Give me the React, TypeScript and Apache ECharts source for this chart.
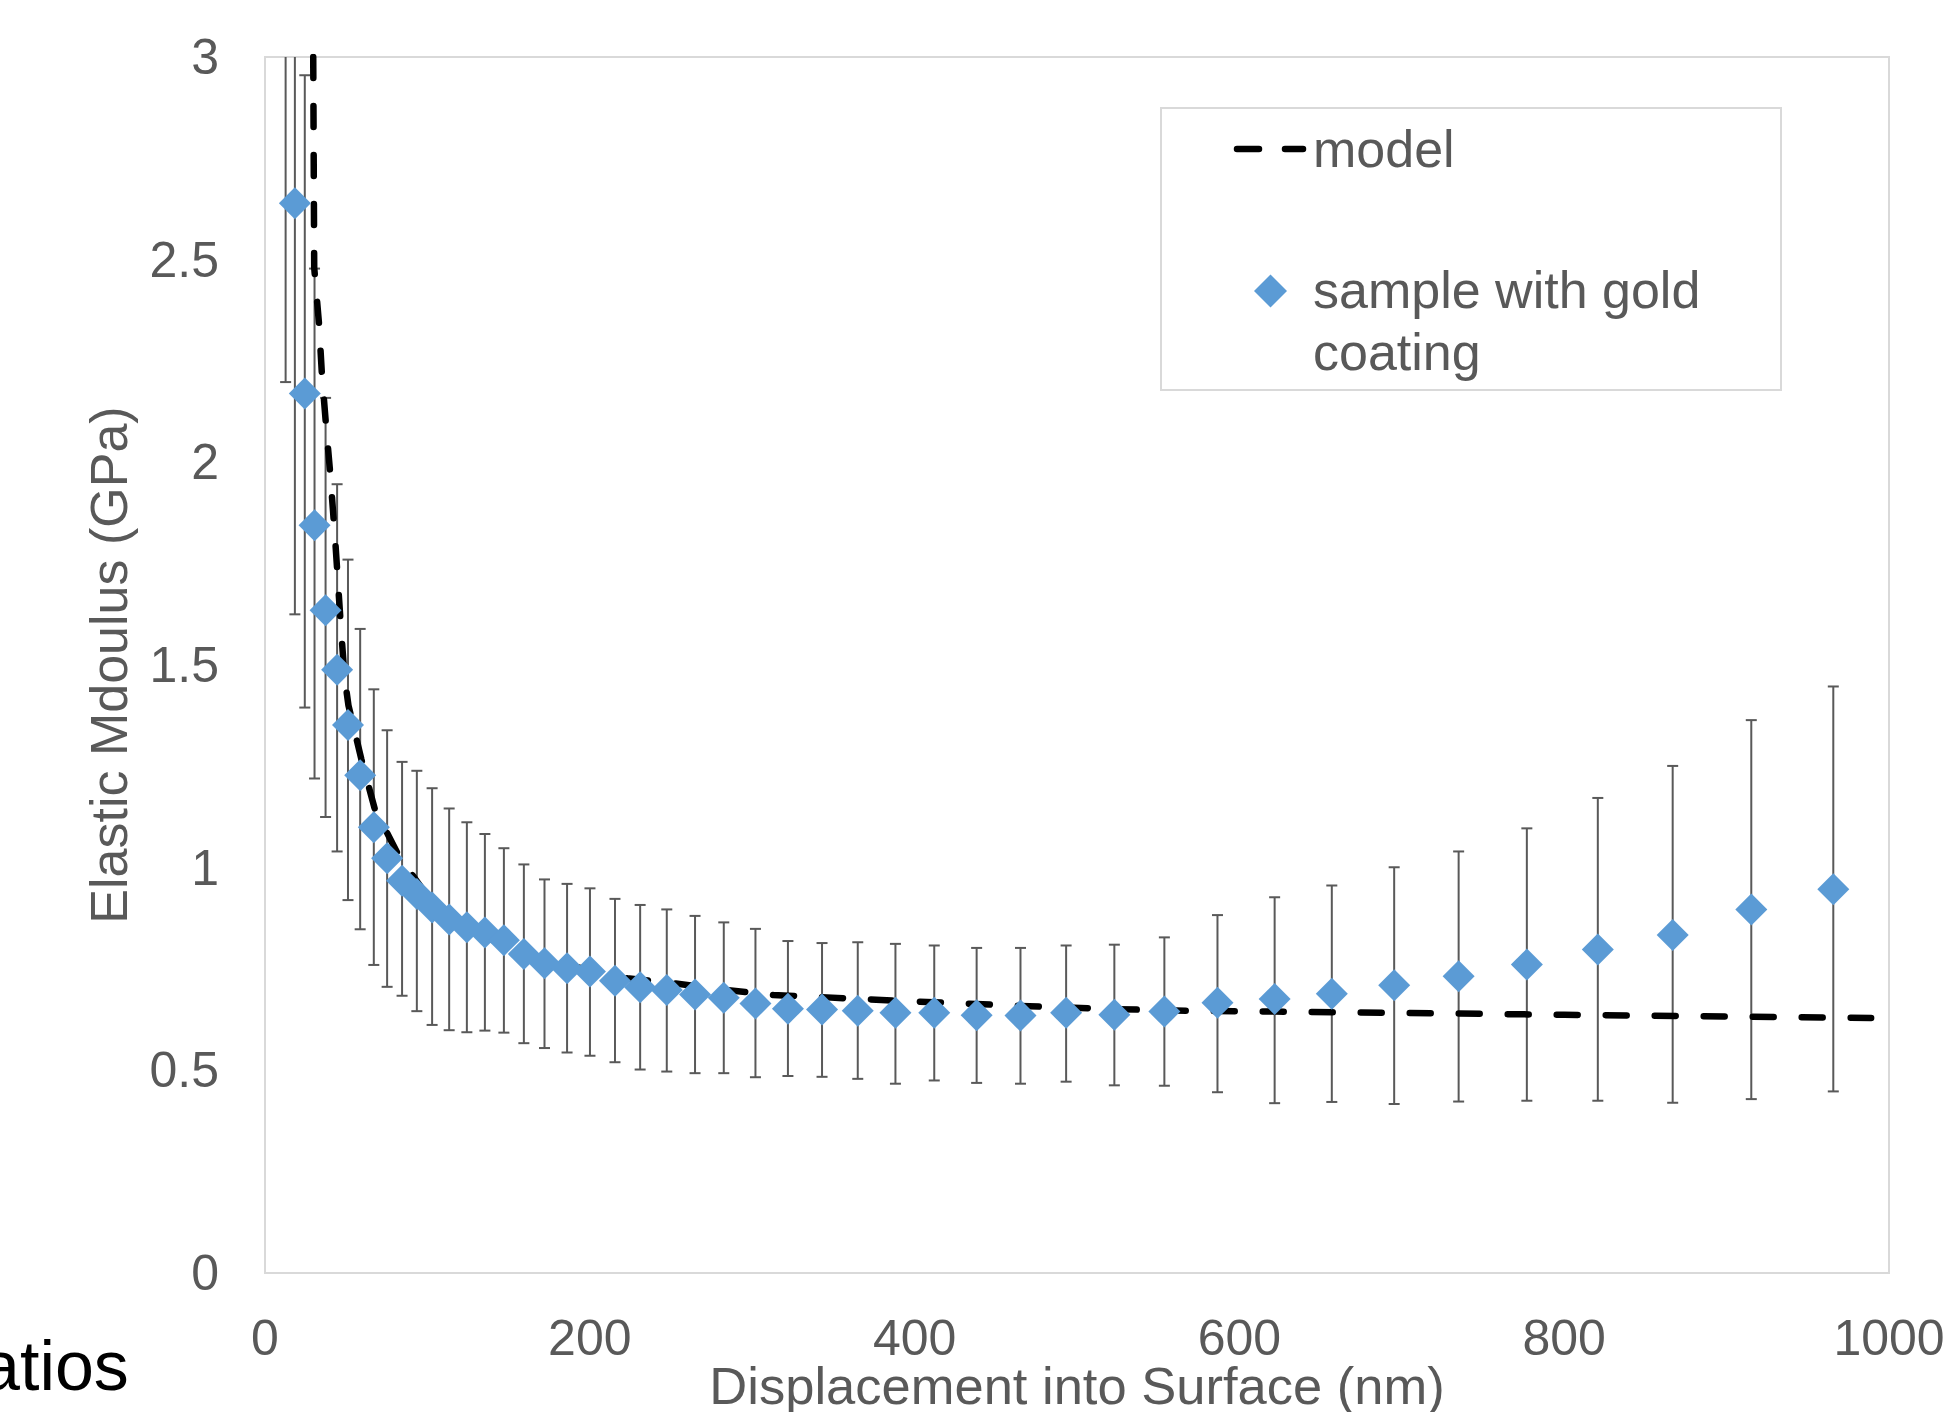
import React, { useEffect, useRef } from "react";
import * as echarts from "echarts";

// ---- data ----
const displacement = [12.7, 18.4, 24.5, 30.5, 37.3, 44.4, 51.1, 58.6, 67.0, 75.2, 84.4, 93.5, 102.9, 113.4, 124.3, 135.4, 147.1, 159.4, 172.1, 186.0, 200.1, 215.5, 231.0, 247.4, 264.8, 282.5, 302.0, 322.0, 343.0, 365.0, 388.2, 412.1, 438.2, 465.2, 493.3, 523.0, 553.8, 586.5, 621.7, 656.9, 695.3, 735.0, 777.0, 820.7, 866.8, 915.2, 965.7];
const modulus = [3.3, 2.639, 2.17, 1.845, 1.635, 1.488, 1.352, 1.228, 1.10, 1.023, 0.968, 0.935, 0.902, 0.872, 0.853, 0.840, 0.821, 0.787, 0.764, 0.752, 0.744, 0.721, 0.705, 0.698, 0.687, 0.679, 0.665, 0.652, 0.650, 0.647, 0.642, 0.642, 0.636, 0.635, 0.642, 0.637, 0.645, 0.667, 0.676, 0.689, 0.710, 0.732, 0.761, 0.798, 0.834, 0.897, 0.947];
const errLow = [2.198, 1.625, 1.395, 1.22, 1.125, 1.04, 0.92, 0.848, 0.76, 0.706, 0.684, 0.646, 0.612, 0.599, 0.594, 0.598, 0.593, 0.567, 0.555, 0.544, 0.536, 0.520, 0.502, 0.497, 0.493, 0.493, 0.483, 0.486, 0.484, 0.479, 0.467, 0.475, 0.469, 0.467, 0.472, 0.463, 0.462, 0.446, 0.419, 0.422, 0.417, 0.423, 0.425, 0.425, 0.420, 0.429, 0.448];
const errHigh = [4.4, 3.65, 2.955, 2.478, 2.159, 1.946, 1.76, 1.589, 1.44, 1.339, 1.261, 1.239, 1.196, 1.146, 1.112, 1.083, 1.048, 1.008, 0.971, 0.960, 0.949, 0.923, 0.908, 0.897, 0.881, 0.865, 0.849, 0.819, 0.814, 0.816, 0.812, 0.808, 0.802, 0.802, 0.808, 0.810, 0.828, 0.883, 0.927, 0.956, 1.001, 1.040, 1.097, 1.172, 1.251, 1.364, 1.447];

const modelDisp = [29.7, 30.3, 33.3, 35.0, 37.4, 40.0, 43.2, 46.8, 49.0, 51.4, 59.3, 67.6, 82.7, 100, 120, 150, 180, 200, 223, 250, 284, 313, 346, 388, 465, 523, 570, 622, 695, 800, 900, 989];
const modelModulus = [3.0, 2.48, 2.34, 2.22, 2.10, 1.98, 1.81, 1.59, 1.47, 1.40, 1.268, 1.145, 1.027, 0.93, 0.865, 0.80, 0.765, 0.748, 0.727, 0.716, 0.698, 0.686, 0.680, 0.672, 0.659, 0.651, 0.647, 0.645, 0.642, 0.637, 0.633, 0.629];

const xAxisTitle = "Displacement into Surface (nm)";
const yAxisTitle = "Elastic Mdoulus (GPa)";
const legendModel = "model";
const legendSampleLine1 = "sample with gold";
const legendSampleLine2 = "coating";
const strayCaption = "atios";

const FONT = '"Liberation Sans", Arial, Helvetica, sans-serif';
const GRAY = "#595959";
const BLUE = "#5b9bd5";

export default function App() {
  const ref = useRef<HTMLDivElement>(null);

  useEffect(() => {
    document.body.style.margin = "0";
    const chart = echarts.init(ref.current as HTMLDivElement, undefined, { renderer: "svg" });

    const points = displacement.map((x, i) => [x, modulus[i]]);
    const bars = displacement.map((x, i) => [x, errLow[i], errHigh[i]]);
    const model = modelDisp.map((x, i) => [x, modelModulus[i]]);

    const option: any = {
      animation: false,
      backgroundColor: "#ffffff",
      textStyle: { fontFamily: FONT },
      grid: {
        left: 265,
        right: 64,
        top: 57,
        bottom: 139,
        containLabel: false,
        outerBoundsMode: "none",
        show: true,
        borderColor: "#d9d9d9",
        borderWidth: 2,
        backgroundColor: "transparent",
      },
      xAxis: {
        type: "value",
        min: 0,
        max: 1000,
        interval: 200,
        axisLine: { show: false },
        axisTick: { show: false },
        splitLine: { show: false },
        axisLabel: { color: GRAY, fontSize: 50, fontFamily: FONT, margin: 40, formatter: (v: number) => String(v) },
      },
      yAxis: {
        type: "value",
        min: 0,
        max: 3,
        interval: 0.5,
        axisLine: { show: false },
        axisTick: { show: false },
        splitLine: { show: false },
        axisLabel: { color: GRAY, fontSize: 50, fontFamily: FONT, margin: 46, formatter: (v: number) => String(v) },
      },
      series: [
        {
          name: "error",
          type: "custom",
          z: 1,
          clip: true,
          data: bars,
          encode: { x: 0, y: [1, 2] },
          renderItem: (params: any, api: any) => {
            const x = api.value(0);
            const lo = api.coord([x, api.value(1)]);
            const hi = api.coord([x, api.value(2)]);
            const cs = params.coordSys;
            const top = cs.y;
            const px = lo[0];
            const yTop = Math.max(hi[1], top);
            const children: any[] = [
              { type: "line", shape: { x1: px, y1: yTop, x2: px, y2: lo[1] }, style: { stroke: GRAY, lineWidth: 2 } },
              { type: "line", shape: { x1: px - 5.5, y1: lo[1], x2: px + 5.5, y2: lo[1] }, style: { stroke: GRAY, lineWidth: 2 } },
            ];
            if (hi[1] >= top) {
              children.push({ type: "line", shape: { x1: px - 5.5, y1: hi[1], x2: px + 5.5, y2: hi[1] }, style: { stroke: GRAY, lineWidth: 2 } });
            }
            return { type: "group", children };
          },
        },
        {
          name: "model",
          type: "line",
          z: 2,
          data: model,
          symbol: "none",
          smooth: false,
          clip: true,
          lineStyle: { color: "#000000", width: 6.5, type: [21, 28], cap: "round", join: "round" },
        },
        {
          name: "sample with gold coating",
          type: "scatter",
          z: 3,
          data: points,
          symbol: "diamond",
          symbolSize: 32,
          clip: true,
          itemStyle: { color: BLUE, opacity: 1 },
        },
      ],
      graphic: [
        {
          type: "rect",
          shape: { x: 1161, y: 108, width: 620, height: 282 },
          style: { fill: "#ffffff", stroke: "#d9d9d9", lineWidth: 2 },
          z: 10,
        },
        {
          type: "line",
          shape: { x1: 1237, y1: 149, x2: 1303, y2: 149 },
          style: { stroke: "#000000", lineWidth: 6.5, lineDash: [22, 26], lineCap: "round" },
          z: 11,
        },
        {
          type: "text",
          x: 1313,
          y: 149,
          style: { text: legendModel, fill: GRAY, font: `52px ${FONT}`, textAlign: "left", textVerticalAlign: "middle", verticalAlign: "middle" },
          z: 11,
        },
        {
          type: "polygon",
          shape: { points: [[1270.5, 274.5], [1287, 291], [1270.5, 307.5], [1254, 291]] },
          style: { fill: BLUE },
          z: 11,
        },
        {
          type: "text",
          x: 1313,
          y: 290,
          style: { text: legendSampleLine1, fill: GRAY, font: `52px ${FONT}`, textAlign: "left", textVerticalAlign: "middle", verticalAlign: "middle" },
          z: 11,
        },
        {
          type: "text",
          x: 1313,
          y: 352,
          style: { text: legendSampleLine2, fill: GRAY, font: `52px ${FONT}`, textAlign: "left", textVerticalAlign: "middle", verticalAlign: "middle" },
          z: 11,
        },
        {
          type: "text",
          x: 109,
          y: 665,
          rotation: Math.PI / 2,
          style: { text: yAxisTitle, fill: GRAY, font: `52px ${FONT}`, textAlign: "center", textVerticalAlign: "middle", verticalAlign: "middle" },
          z: 11,
        },
        {
          type: "text",
          x: 1077,
          y: 1385,
          style: { text: xAxisTitle, fill: GRAY, font: `52.5px ${FONT}`, textAlign: "center", textVerticalAlign: "middle", verticalAlign: "middle" },
          z: 11,
        },
        {
          type: "text",
          x: -19,
          y: 1366,
          style: { text: strayCaption, fill: "#000000", font: `70px ${FONT}`, textAlign: "left", textVerticalAlign: "middle", verticalAlign: "middle" },
          z: 11,
        },
      ],
    };

    chart.setOption(option);
    return () => {
      chart.dispose();
    };
  }, []);

  return <div ref={ref} style={{ width: 1953, height: 1412 }} />;
}
